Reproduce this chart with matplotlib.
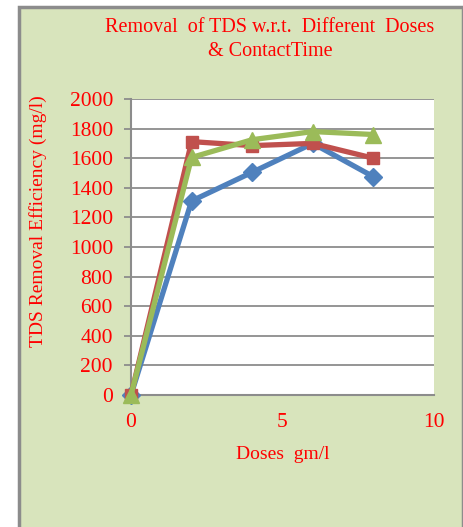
import matplotlib
matplotlib.use("Agg")
import matplotlib.pyplot as plt
from matplotlib.patches import Rectangle

plt.rcParams['font.family'] = ['Liberation Serif', 'DejaVu Serif']

doses = [0, 2, 4, 6, 8]
series_blue = [0, 1311, 1505, 1700, 1475]
series_red = [0, 1712, 1685, 1700, 1600]
series_green = [0, 1605, 1725, 1780, 1760]
yticks = list(range(0, 2001, 200))
xticks = [0, 5, 10]

BG = "#D8E4BC"
RED_TXT = "#FF0000"

W, H = 464, 527
fig = plt.figure(figsize=(W / 100, H / 100), dpi=100)
fig.patch.set_facecolor("white")
# green chart area with gray border
fig.patches.append(Rectangle((19 / W, -0.01), (W - 20) / W, (H - 7) / H + 0.01,
                             transform=fig.transFigure, facecolor=BG,
                             edgecolor="#8C8C8C", lw=2.5, zorder=0))

ax = fig.add_axes([131 / W, 1 - 395 / H, (434 - 131) / W, (395 - 99) / H])
ax.set_zorder(2)
ax.set_facecolor("white")
ax.plot(doses, series_blue, color="#4F81BD", lw=3.8, marker="D", ms=9.5, zorder=3, clip_on=False)
ax.plot(doses, series_red, color="#C0504D", lw=3.8, marker="s", ms=9, zorder=4, clip_on=False)
ax.plot(doses, series_green, color="#9BBB59", lw=3.8, marker="^", ms=11, zorder=5, clip_on=False)

ax.set_xlim(0, 10)
ax.set_ylim(0, 2000)
ax.set_yticks(yticks)
ax.set_xticks(xticks)
ax.yaxis.grid(True, color="#8C8C8C", lw=1.3)
ax.set_axisbelow(True)
for s in ["top", "right"]:
    ax.spines[s].set_visible(False)
for s in ["left", "bottom"]:
    ax.spines[s].set_color("#8C8C8C")
    ax.spines[s].set_linewidth(1.5)
ax.tick_params(axis="y", colors="#8C8C8C", length=5, width=1.3, labelcolor=RED_TXT,
               labelsize=15.5, pad=8)
ax.tick_params(axis="x", length=0, labelcolor=RED_TXT, labelsize=15.5, pad=13)

ax.set_xlabel("Doses  gm/l", color=RED_TXT, fontsize=14, labelpad=10)
fig.text(38 / W, 1 - 221 / H, "TDS Removal Efficiency (mg/l)", color=RED_TXT,
         fontsize=14, rotation=90, ha="center", va="center", zorder=3)

fig.text(270 / W, 1 - 27 / H, "Removal  of TDS w.r.t.  Different  Doses", color=RED_TXT,
         fontsize=14.5, ha="center", va="center", zorder=3)
fig.text(270 / W, 1 - 52 / H, "& ContactTime", color=RED_TXT,
         fontsize=14.5, ha="center", va="center", zorder=3)

fig.savefig("out.png", dpi=100, facecolor=fig.get_facecolor())
